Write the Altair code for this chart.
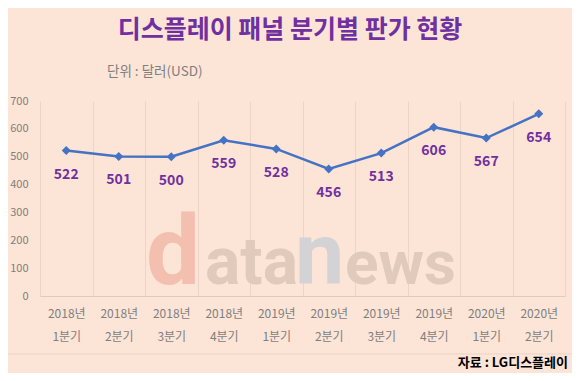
import altair as alt
import pandas as pd

quarters = ["2018년\n1분기", "2018년\n2분기", "2018년\n3분기", "2018년\n4분기",
            "2019년\n1분기", "2019년\n2분기", "2019년\n3분기", "2019년\n4분기",
            "2020년\n1분기", "2020년\n2분기"]
prices = [522, 501, 500, 559, 528, 456, 513, 606, 567, 654]
y_ticks = [0, 100, 200, 300, 400, 500, 600, 700]

title_text = "디스플레이 패널 분기별 판가 현황"
unit_text = "단위 : 달러(USD)"
source_text = "자료 : LG디스플레이"

FONT = "Noto Sans CJK KR"
PURPLE = "#7030a0"
BLUE = "#4472c4"
GRAY = "#7f7f7f"

df = pd.DataFrame({"q": quarters, "v": prices})

base = alt.Chart(df).encode(
    x=alt.X("q:N", sort=None, title=None,
            scale=alt.Scale(paddingInner=0, paddingOuter=0),
            axis=alt.Axis(labelExpr="split(datum.label, '\\n')", labelAngle=0,
                          labelFont=FONT, labelFontSize=12, labelColor=GRAY,
                          labelLineHeight=23, labelPadding=12, ticks=False,
                          domain=True, domainColor="#dccbc0", grid=True,
                          gridColor="#ead5c8", tickBand="extent")),
    y=alt.Y("v:Q", title=None,
            scale=alt.Scale(domain=[0, 700], nice=False),
            axis=alt.Axis(values=y_ticks, grid=False, domain=False, ticks=False,
                          labelFont=FONT, labelFontSize=11, labelColor=GRAY,
                          labelPadding=12)),
)

line = base.mark_line(color=BLUE, strokeWidth=2.5,
                      point=alt.OverlayMarkDef(shape="diamond", size=80,
                                               filled=True, color=BLUE))

labels = base.mark_text(dy=24, baseline="middle", font=FONT, fontSize=14,
                        fontWeight="bold", color=PURPLE).encode(text="v:Q")


def wm(txt, x, size, color):
    return alt.Chart(pd.DataFrame({"t": [txt]})).mark_text(
        font="Roboto", fontSize=size, fontWeight="bold", align="left",
        baseline="alphabetic", color=color
    ).encode(text="t:N", x=alt.value(x), y=alt.value(183))


wm_d = wm("d", 106, 96, "#f3c0b0")
wm_ata = wm("ata", 165, 66, "#dfcabc")
wm_n = wm("n", 255, 88, "#d3d3d6")
wm_ews = wm("ews", 305, 62, "#dfcabc")

title = alt.Chart(pd.DataFrame({"t": [title_text]})).mark_text(
    font=FONT, fontSize=25, fontWeight="bold", color=PURPLE,
    align="center", baseline="middle"
).encode(text="t:N", x=alt.value(250), y=alt.value(-71))

unit = alt.Chart(pd.DataFrame({"t": [unit_text]})).mark_text(
    font=FONT, fontSize=13.5, color=GRAY, align="left", baseline="middle"
).encode(text="t:N", x=alt.value(67), y=alt.value(-29))

source = alt.Chart(pd.DataFrame({"t": [source_text]})).mark_text(
    font=FONT, fontSize=13, fontWeight="bold", color="#000000",
    align="right", baseline="middle"
).encode(text="t:N", x=alt.value(528), y=alt.value(262))

sep = alt.Chart(pd.DataFrame({"a": [0]})).mark_rule(
    color="#ead5c8", strokeWidth=1
).encode(x=alt.value(-40), x2=alt.value(545), y=alt.value(253))

chart = alt.layer(wm_d, wm_ata, wm_n, wm_ews, line, labels, title, unit,
                  source, sep).properties(
    width=525, height=195,
    autosize=alt.AutoSizeParams(type="none"),
    padding={"left": 32, "top": 93, "right": 7, "bottom": 77},
    background="#fce4d6",
).configure_view(stroke=None)

chart.save("out.html", embed_options={"renderer": "svg", "actions": False})
